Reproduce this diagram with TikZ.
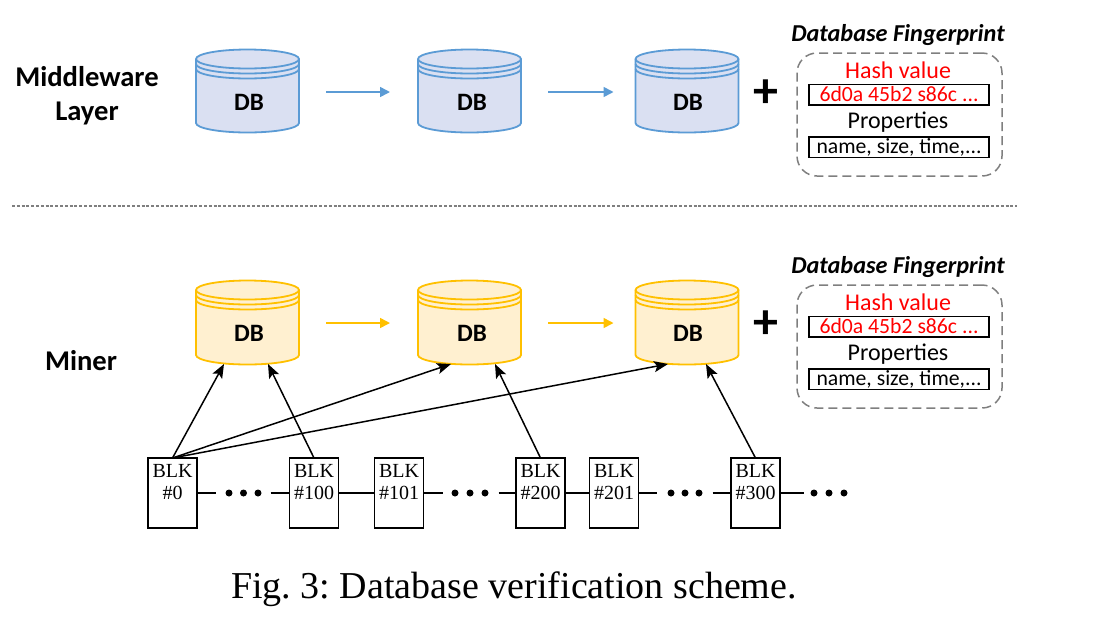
\documentclass[tikz,border=0pt]{standalone}
\usepackage{fontspec}
\setmainfont{Carlito}
\newfontfamily\capfont{Liberation Serif}
\usetikzlibrary{arrows.meta,calc}
\definecolor{bluel}{HTML}{5B9BD5}
\definecolor{bluef}{HTML}{DAE0F2}
\definecolor{yell}{HTML}{FFC000}
\definecolor{yelf}{HTML}{FFF0D0}
\definecolor{dashg}{HTML}{7F7F7F}
\tikzset{
  dbbody/.style={minimum width=103pt,minimum height=82pt,inner sep=0pt,outer sep=0pt},
  dblabel/.style={font=\fontsize{25}{27}\selectfont\bfseries,inner sep=0pt},
  layerlabel/.style={font=\fontsize{28.6}{34}\selectfont\bfseries,align=center,inner sep=0pt},
  flow/.style={line width=1.6pt,-{Triangle[length=10pt,width=10pt]}},
  link/.style={line width=1.5pt,-{Stealth[length=14pt,width=11pt,inset=3pt]}},
  chain/.style={line width=1.5pt},
  fpbox/.style={draw=dashg,dashed,dash pattern=on 9pt off 5pt,line width=1.5pt,rounded corners=20pt,minimum width=205pt,minimum height=123pt,inner sep=0pt},
  fptitle/.style={font=\fontsize{24.3}{26}\selectfont\bfseries\itshape,inner sep=0pt},
  fphead/.style={font=\fontsize{24}{26}\selectfont,inner sep=0pt},
  fpfield/.style={draw=black,line width=1.5pt,minimum width=180pt,minimum height=20.5pt,inner sep=0pt,font=\fontsize{21.7}{23}\selectfont},
  plussign/.style={font=\fontsize{50}{50}\selectfont\bfseries,inner sep=0pt},
  blk/.style={draw=black,line width=1.7pt,fill=white,minimum width=49pt,minimum height=70pt,inner sep=0pt,outer sep=0pt},
  blktext/.style={font=\capfont\fontsize{20}{22}\selectfont,align=center,inner sep=0pt},
  chaindot/.style={circle,fill=black,inner sep=0pt,minimum size=7pt},
}
% name, centre x, top y of the side wall, bottom y of side wall, line, fill
\newcommand{\dbcyl}[6]{%
  \fill[#6] (#2-51.5,#3) arc[start angle=-180,end angle=0,x radius=51.5,y radius=9.5]
     -- (#2+51.5,#4) arc[start angle=0,end angle=180,x radius=51.5,y radius=9.5] -- cycle;
  \draw[#5,line width=1.8pt] (#2-51.5,#3) arc[start angle=-180,end angle=0,x radius=51.5,y radius=9.5]
     -- (#2+51.5,#4) arc[start angle=0,end angle=180,x radius=51.5,y radius=9.5] -- cycle;
  \draw[#5,line width=1.8pt] (#2-51.5,#3) arc[start angle=180,end angle=0,x radius=51.5,y radius=9.5];
  \draw[#5,line width=1.8pt] (#2-51.5,#3+5) arc[start angle=180,end angle=0,x radius=51.5,y radius=9.5];
  \draw[#5,line width=1.8pt] (#2-51.5,#3+10) arc[start angle=180,end angle=0,x radius=51.5,y radius=9.5];
  \node[dbbody] (#1) at (#2,{(#3+#4)/2}) {};
}
% prefix, dy
\newcommand{\fingerprint}[2]{%
  \node[fpbox] (#1box) at (899.5,114.5+#2) {};
  \node[fptitle] (#1title) at (898,35+#2) {Database Fingerprint};
  \node[fphead,text=red] (#1hash) at (898,70+#2) {Hash value};
  \node[fpfield,text=red] (#1hval) at (899,94.5+#2) {6d0a 45b2 s86c ...};
  \node[fphead] (#1prop) at (898,122.5+#2) {Properties};
  \node[fpfield] (#1pval) at (899,147+#2) {name, size, time,...};
}
\begin{document}
\begin{tikzpicture}[x=1pt,y=-1pt]
\useasboundingbox (0,0) rectangle (1097,630);

\node[layerlabel] (mw) at (87,96) {Middleware\\Layer};
\node[layerlabel] (miner) at (81,361) {Miner};

\dbcyl{a1}{247.5}{59}{123}{bluel}{bluef}
\dbcyl{a2}{469.5}{59}{123}{bluel}{bluef}
\dbcyl{a3}{687}{59}{123}{bluel}{bluef}
\node[dblabel] at (249,102) {DB};
\node[dblabel] at (472,102) {DB};
\node[dblabel] at (688,102) {DB};
\draw[flow,draw=bluel,fill=bluel] ($(a1.east)+(27,1)$) -- ($(a2.west)+(-28,1)$);
\draw[flow,draw=bluel,fill=bluel] ($(a2.east)+(27,1)$) -- ($(a3.west)+(-22,1)$);
\node[plussign] (p1) at (766,94) {+};
\fingerprint{f}{0}

\coordinate (s1) at (12,206);
\coordinate (s2) at (1017,206);
\draw[dashg,line width=1.3pt,dash pattern=on 3pt off 1.8pt] (s1) -- (s2);

\dbcyl{b1}{247.5}{290}{355}{yell}{yelf}
\dbcyl{b2}{469.5}{290}{355}{yell}{yelf}
\dbcyl{b3}{687}{290}{355}{yell}{yelf}
\node[dblabel] at (249,333) {DB};
\node[dblabel] at (472,333) {DB};
\node[dblabel] at (688,333) {DB};
\draw[flow,draw=yell,fill=yell] ($(b1.east)+(27,0.5)$) -- ($(b2.west)+(-28,0.5)$);
\draw[flow,draw=yell,fill=yell] ($(b2.east)+(27,0.5)$) -- ($(b3.west)+(-22,0.5)$);
\node[plussign] (p2) at (766,325) {+};
\fingerprint{g}{232}

\node[blk] (k0) at (172.5,493) {};
\node[blk] (k100) at (314,493) {};
\node[blk] (k101) at (399,493) {};
\node[blk] (k200) at (540.5,493) {};
\node[blk] (k201) at (614,493) {};
\node[blk] (k300) at (755.5,493) {};
\node[blktext,anchor=north] at (172.5,464) {BLK\\\#0};
\node[blktext,anchor=north] at (314,464) {BLK\\\#100};
\node[blktext,anchor=north] at (399,464) {BLK\\\#101};
\node[blktext,anchor=north] at (540.5,464) {BLK\\\#200};
\node[blktext,anchor=north] at (614,464) {BLK\\\#201};
\node[blktext,anchor=north] at (755.5,464) {BLK\\\#300};

\foreach \n/\x in {d1/229,d2/243.5,d3/258,d4/455,d5/470,d6/485,d7/671,d8/685,d9/699,d10/814,d11/829,d12/844}
  \node[chaindot] (\n) at (\x,493) {};

\draw[chain] (k0.east) -- ($(d1.west)+(-9,0)$);
\draw[chain] ($(d3.east)+(9,0)$) -- (k100.west);
\draw[chain] (k100.east) -- (k101.west);
\draw[chain] (k101.east) -- ($(d4.west)+(-8,0)$);
\draw[chain] ($(d6.east)+(10,0)$) -- (k200.west);
\draw[chain] (k200.east) -- (k201.west);
\draw[chain] (k201.east) -- ($(d7.west)+(-10,0)$);
\draw[chain] ($(d9.east)+(10,0)$) -- (k300.west);
\draw[chain] (k300.east) -- ($(d10.west)+(-6,0)$);

\coordinate (t1) at (224,364);
\coordinate (t2) at (268,364);
\coordinate (t3) at (451,364);
\coordinate (t4) at (495,364);
\coordinate (t5) at (668,364);
\coordinate (t6) at (706,364);
\draw[link] (k0.north) -- (t1);
\draw[link] (k100.north) -- (t2);
\draw[link] (k0.north) -- (t3);
\draw[link] (k200.north) -- (t4);
\draw[link] (k0.north) -- (t5);
\draw[link] (k300.north) -- (t6);

\node[font=\capfont\fontsize{38}{40}\selectfont,inner sep=0pt] (cap) at (514,589) {\frenchspacing Fig. 3: Database verification scheme.};
\end{tikzpicture}
\end{document}
